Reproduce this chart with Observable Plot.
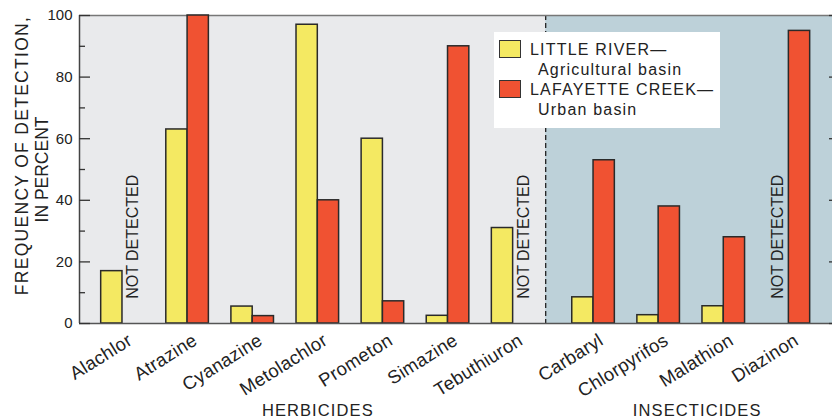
<!DOCTYPE html>
<html><head><meta charset="utf-8">
<script src="https://cdn.jsdelivr.net/npm/d3@7"></script>
<script src="https://cdn.jsdelivr.net/npm/@observablehq/plot@0.6"></script>
<style>
body{margin:0;background:#fff;}
#wrap{position:relative;width:832px;height:418px;font-family:"Liberation Sans",Arial,sans-serif;}
#legend{position:absolute;left:494px;top:32px;width:226px;height:96px;background:#fff;font-size:16px;color:#222;letter-spacing:1.2px;}
#legend .t{position:absolute;line-height:18px;white-space:nowrap;}
#legend .sw{position:absolute;left:5px;width:20px;height:16px;border:1.5px solid #333;}
</style></head><body><div id="wrap"></div>
<script>
const categories = ["Alachlor","Atrazine","Cyanazine","Metolachlor","Prometon","Simazine","Tebuthiuron","Carbaryl","Chlorpyrifos","Malathion","Diazinon"];
const groups = ["HERBICIDES","HERBICIDES","HERBICIDES","HERBICIDES","HERBICIDES","HERBICIDES","HERBICIDES","INSECTICIDES","INSECTICIDES","INSECTICIDES","INSECTICIDES"];
const groupNames = ["HERBICIDES","INSECTICIDES"];
const littleRiver = [17, 63, 5.5, 97, 60, 2.5, 31, 8.5, 2.7, 5.6, null];
const lafayetteCreek = [null, 100, 2.4, 40, 7.2, 90, null, 53, 38, 28, 95];
const seriesNames = ["LITTLE RIVER\u2014", "LAFAYETTE CREEK\u2014"];
const seriesSubs = ["Agricultural basin", "Urban basin"];
const seriesColors = ["#f4e962", "#f05232"];
const bgColors = ["#e9eaec", "#bdd1d9"];
const yTicks = [0, 20, 40, 60, 80, 100];
const yMinorTicks = [10, 30, 50, 70, 90];
const yTitleLines = ["FREQUENCY OF DETECTION,", "IN PERCENT"];
const notDetectedText = "NOT DETECTED";

const GAP = 0.235, HALF = 0.327;
const pos = categories.map((c, i) => i + (groups[i] === groupNames[1] ? GAP : 0));
const bars = [];
categories.forEach((c, i) => {
  if (littleRiver[i] != null) bars.push({x1: pos[i] - HALF, x2: pos[i], v: littleRiver[i], s: seriesNames[0]});
  if (lafayetteCreek[i] != null) bars.push({x1: pos[i], x2: pos[i] + HALF, v: lafayetteCreek[i], s: seriesNames[1]});
});
const nd = [];
categories.forEach((c, i) => {
  if (littleRiver[i] == null) nd.push({x: pos[i] - HALF / 2});
  if (lafayetteCreek[i] == null) nd.push({x: pos[i] + HALF / 2});
});
const lastHerb = groups.lastIndexOf(groupNames[0]);
const divider = pos[lastHerb] + 0.5;
const xMin = pos[0] - 0.66, xMax = pos[pos.length - 1] + 0.67;
const labels = categories.map((c, i) => ({x: pos[i], text: c}));
const groupLabels = groupNames.map(g => ({x: d3.mean(pos.filter((p, i) => groups[i] === g)), text: g}));

const chart = Plot.plot({
  width: 832, height: 418,
  marginLeft: 79, marginRight: 0, marginTop: 15, marginBottom: 95,
  style: {fontFamily: '"Liberation Sans", Arial, sans-serif', background: "#fff", color: "#222"},
  x: {domain: [xMin, xMax], axis: null},
  y: {domain: [0, 100]},
  color: {domain: seriesNames, range: seriesColors},
  marks: [
    Plot.frame({fill: bgColors[0], stroke: null}),
    Plot.rect([{x1: divider, x2: xMax}], {x1: "x1", x2: "x2", y1: 0, y2: 100, fill: bgColors[1]}),
    Plot.ruleX([divider], {stroke: "#222", strokeWidth: 1.3, strokeDasharray: "5,3"}),
    Plot.ruleY([100], {stroke: "#777", strokeWidth: 1.5}),
    Plot.rectY(bars, {x1: "x1", x2: "x2", y1: 0, y2: "v", fill: "s", stroke: "#2a2a2a", strokeWidth: 1.5}),
    Plot.ruleY([0], {stroke: "#555", strokeWidth: 1.5}),
    Plot.ruleX([xMin], {stroke: "#444", strokeWidth: 1.5}),
    Plot.axisY({ticks: yTicks, tickSize: 11, dx: 11, fill: "none", stroke: "#333", strokeWidth: 1.3, label: null}),
    Plot.axisY({ticks: yMinorTicks, tickSize: 6, dx: 6, fill: "none", stroke: "#333", strokeWidth: 1.3, label: null}),
    Plot.axisY({anchor: "right", ticks: yTicks, tickSize: 4, dx: -4, fill: "none", stroke: "#333", strokeWidth: 1.3, label: null}),
    Plot.axisY({ticks: yTicks, tickSize: 0, tickPadding: 7, fontSize: 15, fill: "#222", label: null}),
    Plot.text([yTitleLines[0]], {frameAnchor: "left", dx: -57, dy: -14, rotate: -90, textAnchor: "middle", fontSize: 17.5, fill: "#222"}),
    Plot.text([yTitleLines[1]], {frameAnchor: "left", dx: -37, rotate: -90, textAnchor: "middle", fontSize: 17.5, fill: "#222"}),
    Plot.text(nd, {x: "x", y: 8, text: () => notDetectedText, rotate: -90, textAnchor: "start", fontSize: 16, fill: "#222"}),
    Plot.text(labels, {x: "x", text: "text", frameAnchor: "bottom", dx: 4, dy: 9, rotate: -32, textAnchor: "end", lineAnchor: "top", fontSize: 18.5, fill: "#222"}),
    Plot.text(groupLabels.slice(0, 1), {x: "x", text: "text", frameAnchor: "bottom", dy: 92, lineAnchor: "bottom", fontSize: 16.5, fill: "#222"}),
    Plot.text(groupLabels.slice(1), {x: "x", text: "text", frameAnchor: "bottom", dx: 6, dy: 92, lineAnchor: "bottom", fontSize: 16.5, fill: "#222"})
  ]
});
d3.select(chart).selectAll("text").filter(function() { return groupNames.includes(this.textContent); })
  .style("letter-spacing", "1.1px");
d3.select(chart).selectAll("text").filter(function() { return this.textContent === yTitleLines[0]; })
  .style("letter-spacing", "1.3px");
d3.select(chart).selectAll("text").filter(function() { return categories.includes(this.textContent); })
  .style("letter-spacing", "0.3px");
const wrap = document.getElementById("wrap");
wrap.appendChild(chart);

const legend = document.createElement("div");
legend.id = "legend";
seriesNames.forEach((name, i) => {
  const sw = document.createElement("div");
  sw.className = "sw"; sw.style.top = (8 + i * 40) + "px"; sw.style.background = seriesColors[i];
  legend.appendChild(sw);
  const t1 = document.createElement("div");
  t1.className = "t"; t1.style.left = "36px"; t1.style.top = (9 + i * 40) + "px"; t1.textContent = name;
  legend.appendChild(t1);
  const t2 = document.createElement("div");
  t2.className = "t"; t2.style.left = "44px"; t2.style.top = (29 + i * 40) + "px"; t2.textContent = seriesSubs[i];
  legend.appendChild(t2);
});
wrap.appendChild(legend);
</script></body></html>
